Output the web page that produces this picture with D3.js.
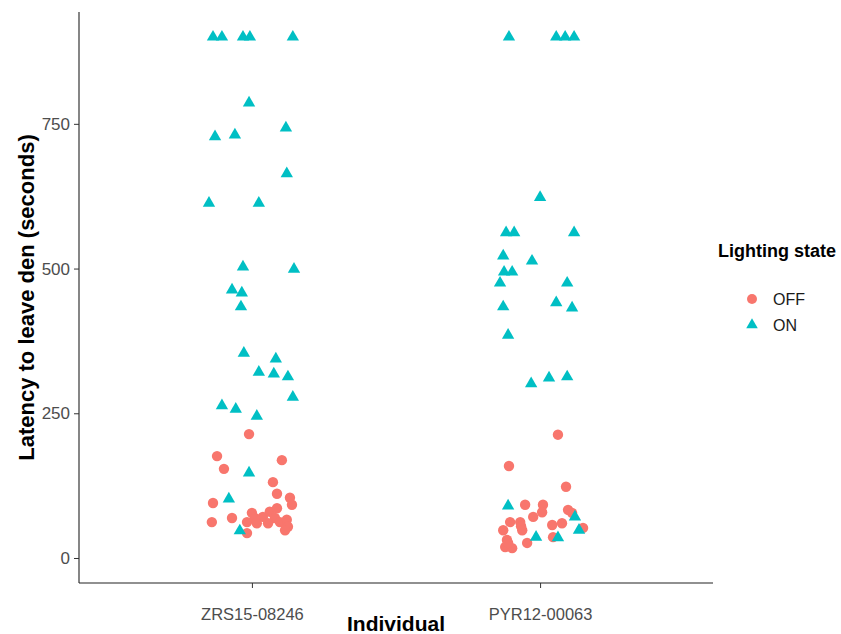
<!DOCTYPE html>
<html>
<head>
<meta charset="utf-8">
<script src="https://cdn.jsdelivr.net/npm/d3@7"></script>
<style>
  html, body { margin: 0; padding: 0; background: #fff; }
  svg { display: block; font-family: "Liberation Sans", Arial, sans-serif; }
</style>
</head>
<body>
<svg id="chart" width="841" height="634"></svg>
<script>
// Individuals on the x axis (discrete positions 1 and 2)
const individuals = ["ZRS15-08246", "PYR12-00063"];
const states = ["OFF", "ON"];
const stateColors = ["#F8766D", "#00BFC4"];
const yTicks = [0, 250, 500, 750];

// Each point: [horizontal jitter in category units, latency in seconds]
const zrsOff = [
  [-0.010, 214], [-0.121, 176], [0.104, 169], [-0.097, 154], [0.073, 131],
  [0.087, 111], [-0.135, 95], [0.132, 104], [0.139, 92], [-0.139, 62],
  [-0.069, 69], [0.000, 78], [0.010, 69], [-0.017, 62], [0.038, 71],
  [0.062, 80], [0.087, 86], [0.080, 69], [0.097, 62], [0.121, 66],
  [0.125, 54], [0.115, 48], [0.056, 60], [-0.017, 43], [0.017, 60]
];
const zrsOn = [
  [-0.135, 900], [-0.104, 900], [-0.031, 900], [-0.007, 900], [0.142, 900],
  [-0.010, 786], [0.118, 743], [-0.128, 728], [-0.059, 731], [0.121, 664],
  [-0.149, 613], [0.024, 613], [-0.031, 503], [0.146, 499], [-0.069, 463],
  [-0.035, 458], [-0.038, 434], [-0.028, 354], [0.083, 344], [0.024, 321],
  [0.076, 318], [0.125, 313], [0.142, 278], [-0.104, 263], [-0.056, 257],
  [0.017, 245], [-0.010, 147], [-0.080, 102], [-0.042, 47]
];
const pyrOff = [
  [0.062, 213], [-0.108, 159], [0.090, 123], [-0.052, 92], [0.010, 92],
  [0.007, 79], [-0.024, 71], [0.097, 83], [0.111, 78], [-0.104, 62],
  [-0.069, 62], [-0.066, 55], [-0.062, 48], [-0.128, 48], [0.042, 57],
  [0.076, 60], [0.149, 52], [0.045, 36], [-0.115, 31], [-0.121, 19],
  [-0.097, 17], [-0.111, 26], [-0.045, 26]
];
const pyrOn = [
  [-0.108, 900], [0.056, 900], [0.087, 900], [0.118, 900], [0.000, 623],
  [-0.118, 562], [-0.090, 562], [0.118, 562], [-0.128, 522], [-0.028, 513],
  [-0.125, 494], [-0.097, 494], [-0.139, 475], [0.094, 475], [0.056, 441],
  [0.111, 432], [-0.128, 434], [-0.111, 385], [-0.031, 301], [0.031, 311],
  [0.094, 313], [-0.111, 90], [0.121, 71], [-0.014, 36], [0.062, 35],
  [0.135, 48]
];

const groups = [
  { ind: 0, state: 0, pts: zrsOff },
  { ind: 1, state: 0, pts: pyrOff },
  { ind: 0, state: 1, pts: zrsOn },
  { ind: 1, state: 1, pts: pyrOn }
];
const points = groups.flatMap(g => g.pts.map(([j, v]) => ({ ind: g.ind, state: g.state, j, v })));

const svg = d3.select("#chart");
const panel = { left: 79, right: 713, top: 12, bottom: 583 };

// Discrete axis with 0.6 expansion on each side
const x = d3.scaleLinear().domain([0.4, 2.6]).range([panel.left, panel.right]);
const y = d3.scaleLinear().domain([-43.2, 943.2]).range([panel.bottom, panel.top]);

const triangle = d3.symbol().type(d3.symbolTriangle).size(66);

// Points: circles for OFF, triangles for ON
const markG = svg.append("g");
points.forEach(p => {
  const cx = x(p.ind + 1 + p.j), cy = y(p.v);
  if (p.state === 0) {
    markG.append("circle").attr("cx", cx).attr("cy", cy).attr("r", 5.2)
      .attr("fill", stateColors[0]);
  } else {
    markG.append("path").attr("d", triangle)
      .attr("transform", `translate(${cx},${cy})`)
      .attr("fill", stateColors[1]);
  }
});

// Y axis
const yAxis = d3.axisLeft(y).tickValues(yTicks).tickSize(5).tickPadding(4).tickSizeOuter(0);
const gy = svg.append("g").attr("transform", `translate(${panel.left},0)`).call(yAxis);
gy.select(".domain").attr("stroke", "#222").attr("stroke-width", 1.1)
  .attr("d", `M0,${panel.top}V${panel.bottom}`);
gy.selectAll(".tick line").attr("stroke", "#333").attr("stroke-width", 1);
gy.selectAll(".tick text").attr("fill", "#4D4D4D").style("font-size", "17px")
  .style("font-family", "'Liberation Sans', Arial, sans-serif");

// X axis
const xAxis = d3.axisBottom(x).tickValues([1, 2]).tickFormat(d => individuals[d - 1])
  .tickSize(5).tickPadding(20).tickSizeOuter(0);
const gx = svg.append("g").attr("transform", `translate(0,${panel.bottom})`).call(xAxis);
gx.select(".domain").attr("stroke", "#222").attr("stroke-width", 1.1)
  .attr("d", `M${panel.left},0H${panel.right}`);
gx.selectAll(".tick line").attr("stroke", "#333").attr("stroke-width", 1);
gx.selectAll(".tick text").attr("fill", "#4D4D4D").style("font-size", "16.5px")
  .style("font-family", "'Liberation Sans', Arial, sans-serif");

// Axis titles
svg.append("text").attr("x", (panel.left + panel.right) / 2).attr("y", 631)
  .attr("text-anchor", "middle").attr("font-weight", "bold").attr("font-size", 21)
  .attr("fill", "#000").text("Individual");
svg.append("text").attr("transform", `translate(34,${(panel.top + panel.bottom) / 2}) rotate(-90)`)
  .attr("text-anchor", "middle").attr("font-weight", "bold").attr("font-size", 22)
  .attr("fill", "#000").text("Latency to leave den (seconds)");

// Legend
const legend = svg.append("g").attr("transform", "translate(718,0)");
legend.append("text").attr("x", 0).attr("y", 257).attr("font-weight", "bold")
  .attr("font-size", 18).attr("fill", "#000").text("Lighting state");
states.forEach((s, i) => {
  const cy = 299 + i * 26;
  if (i === 0) {
    legend.append("circle").attr("cx", 34).attr("cy", cy).attr("r", 5).attr("fill", stateColors[0]);
  } else {
    legend.append("path").attr("d", d3.symbol().type(d3.symbolTriangle).size(58))
      .attr("transform", `translate(34,${cy})`).attr("fill", stateColors[1]);
  }
  legend.append("text").attr("x", 55).attr("y", cy).attr("dy", "0.35em")
    .attr("font-size", 16).attr("fill", "#1A1A1A").text(s);
});
</script>
</body>
</html>
